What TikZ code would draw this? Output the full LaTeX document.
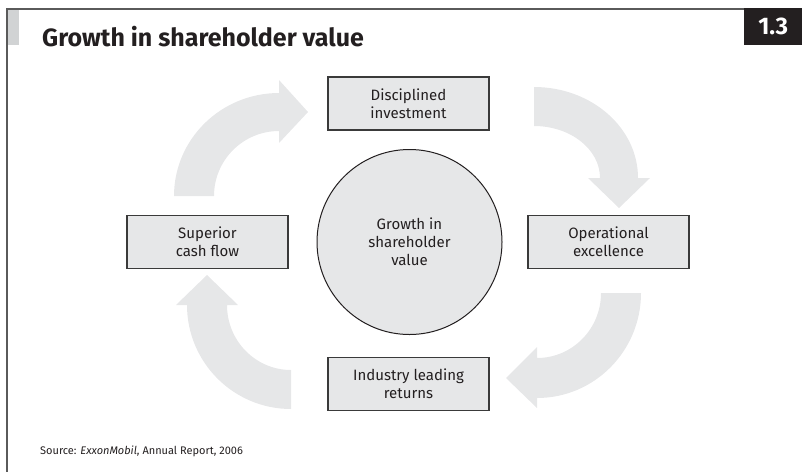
\documentclass[tikz,border=0pt]{standalone}
\usepackage{fontspec}
\setmainfont{Fira Sans}
\definecolor{arrowgray}{HTML}{E6E7E8}
\definecolor{boxgray}{HTML}{E6E7E8}
\definecolor{edgegray}{HTML}{3A3A3A}
\definecolor{framegray}{HTML}{5A5A5A}
\definecolor{bargray}{HTML}{D1D3D4}
\definecolor{inkc}{HTML}{231F20}
\tikzset{
  stepbox/.style={draw=edgegray, line width=1.3pt, fill=boxgray, rectangle,
    minimum width=161pt, minimum height=53pt, inner sep=0pt, align=center,
    font=\fontsize{15}{18}\selectfont, text=inkc},
  hub/.style={draw=inkc, line width=1pt, fill=boxgray, circle,
    minimum size=185pt, inner sep=0pt, align=center,
    font=\fontsize{15}{18}\selectfont, text=inkc},
  bigarrow/.style={fill=arrowgray, draw=none},
}
\begin{document}
\begin{tikzpicture}[x=1pt,y=-1pt]
\useasboundingbox (0,0) rectangle (802,472);
% frame
\fill[bargray] (7,9) rectangle (19,45);
\draw[framegray, line width=1.5pt] (744,9) -- (7,9) -- (7,472);
\node[fill=inkc, minimum width=58pt, minimum height=37pt, inner sep=0pt,
  anchor=north west, text=white, font=\fontsize{24}{24}\selectfont\bfseries]
  (num) at (744,8) {1.3};
\node[anchor=base west, inner sep=0pt, text=inkc,
  font=\fontsize{25}{28}\selectfont\bfseries] (title) at (42,46) {Growth in shareholder value};
% arrows
\path[bigarrow] (174,196) arc[start angle=180, end angle=270, x radius=105, y radius=103]
  -- (279,80) -- (308,112) -- (279,143) -- (279,131)
  arc[start angle=270, end angle=180, radius=65] -- cycle;
\path[bigarrow] (534,87) arc[start angle=270, end angle=360, x radius=104, y radius=91]
  -- (650,178) -- (619,208) -- (588,178) -- (600,178)
  arc[start angle=0, end angle=-90, x radius=66, y radius=52] -- cycle;
\path[bigarrow] (601,293) -- (641,293) arc[start angle=0, end angle=90, x radius=104, y radius=105]
  -- (537,408) -- (506,378) -- (537,347) -- (537,358)
  arc[start angle=90, end angle=0, x radius=64, y radius=65] -- cycle;
\path[bigarrow] (291,370) -- (291,409) arc[start angle=90, end angle=180, radius=104]
  -- (176,305) -- (207,275) -- (238,305) -- (227,305)
  arc[start angle=180, end angle=90, x radius=64, y radius=65] -- cycle;
% nodes
\node[hub] (hubn) at (409.5,242) {Growth in\\shareholder\\value};
\node[stepbox] (inv) at (408.5,103.5) {Disciplined\\investment};
\node[stepbox] (ops) at (608.5,242) {Operational\\excellence};
\node[stepbox] (ret) at (408.5,384) {Industry leading\\returns};
\node[stepbox] (cash) at (207.5,242) {Superior\\cash flow};
\node[anchor=base west, inner sep=0pt, text=inkc, font=\fontsize{11}{13}\selectfont]
  (src) at (40,454) {Source: \textit{ExxonMobil}, Annual Report, 2006};
\end{tikzpicture}
\end{document}
